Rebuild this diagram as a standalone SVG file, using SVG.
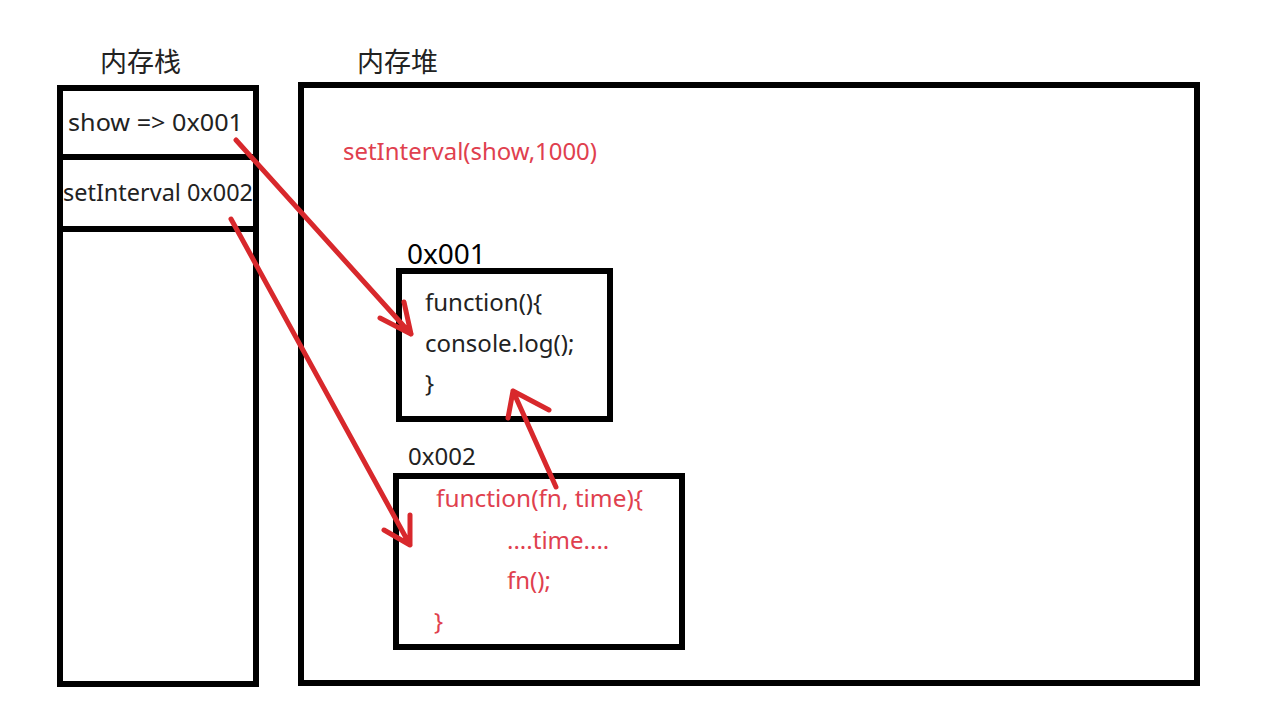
<svg xmlns="http://www.w3.org/2000/svg" width="1285" height="710" viewBox="0 0 1285 710">
<style>
.box{fill:none;stroke:#000;stroke-width:6}
.t{font-family:"Noto Sans","Noto Sans CJK SC",sans-serif;fill:#222;font-size:24px}
.r{font-family:"Noto Sans","Noto Sans CJK SC",sans-serif;fill:#e0404e;font-size:24px}
.cn{font-family:"Noto Sans CJK SC",sans-serif;fill:#222;font-size:27px}
.arr{fill:none;stroke:#d8282c;stroke-width:5;stroke-linecap:round;stroke-linejoin:round}
</style>
<rect width="1285" height="710" fill="#fff"/>
<g id="stack">
<text class="cn" x="100" y="72">内存栈</text>
<rect class="box" x="60" y="88" width="196" height="596"/>
<line class="box" x1="60" y1="157" x2="256" y2="157"/>
<line class="box" x1="60" y1="229" x2="256" y2="229"/>
<text class="t" x="68" y="131" textLength="175" lengthAdjust="spacingAndGlyphs">show =&gt; 0x001</text>
<text class="t" x="63" y="201" textLength="190" lengthAdjust="spacingAndGlyphs">setInterval 0x002</text>
</g>
<g id="heap">
<text class="cn" x="357" y="72">内存堆</text>
<rect class="box" x="301" y="85" width="896" height="598"/>
<text class="r" x="343" y="160" textLength="254" lengthAdjust="spacingAndGlyphs">setInterval(show,1000)</text>
</g>
<g id="fn1">
<text class="t" x="407" y="264" style="font-size:28px;fill:#000">0x001</text>
<rect class="box" x="399" y="271" width="211" height="148"/>
<text class="t" x="425" y="311">function(){</text>
<text class="t" x="425" y="352">console.log();</text>
<text class="t" x="425" y="392">}</text>
</g>
<g id="fn2">
<text class="t" x="408" y="465">0x002</text>
<rect class="box" x="396" y="476" width="286" height="171"/>
<text class="r" x="436" y="507" textLength="207" lengthAdjust="spacingAndGlyphs">function(fn, time){</text>
<text class="r" x="507" y="549">....time....</text>
<text class="r" x="507" y="589">fn();</text>
<text class="r" x="434" y="630">}</text>
</g>
<g id="connectors">
<path class="arr" d="M236 140 L411 334 M380 318 L411 334 L404 302"/>
<path class="arr" d="M231 219 L410 545 M384 530 L410 545 L410 515"/>
<path class="arr" d="M556 487 L513 391 M549 410 L513 391 L508 418"/>
</g>
</svg>
